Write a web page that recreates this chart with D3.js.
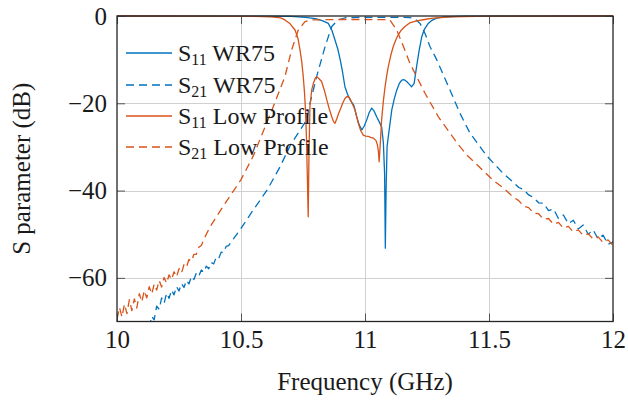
<!DOCTYPE html>
<html>
<head>
<meta charset="utf-8">
<script src="https://cdn.jsdelivr.net/npm/d3@7/dist/d3.min.js"></script>
<style>
  html, body { margin: 0; padding: 0; background: #fff; }
  svg { display: block; }
</style>
</head>
<body>
<svg id="chart" width="628" height="400"></svg>
<script>
// ---------------- DATA ----------------
const xTicks = [10, 10.5, 11, 11.5, 12];
const xTickLabels = ["10", "10.5", "11", "11.5", "12"];
const yTicks = [0, -20, -40, -60];
const yTickLabels = ["0", "\u221220", "\u221240", "\u221260"];

// S11 WR75 (solid blue)
const s11WrFreq = [10.0, 10.4, 10.6, 10.7, 10.76, 10.8, 10.83, 10.852, 10.866, 10.879, 10.89, 10.9, 10.91, 10.919, 10.93, 10.94, 10.955, 10.966, 10.977, 10.987, 10.997, 11.007, 11.017, 11.027, 11.037, 11.047, 11.057, 11.067, 11.074, 11.079, 11.082, 11.085, 11.089, 11.094, 11.1, 11.108, 11.118, 11.128, 11.138, 11.148, 11.158, 11.168, 11.178, 11.188, 11.198, 11.208, 11.218, 11.229, 11.24, 11.255, 11.27, 11.289, 11.32, 11.4, 11.6, 12.0];
const s11WrDb   = [0, -0.02, -0.05, -0.1, -0.3, -0.6, -1.1, -1.7, -3.2, -5.5, -7.5, -10, -13, -16.2, -18, -19.2, -20.5, -23, -25, -26.1, -25.2, -23.8, -22.1, -21.1, -21.8, -23.1, -24.2, -25.4, -29, -36, -53.2, -40, -30, -27.6, -25, -21.5, -19, -17, -15.5, -14.7, -14.6, -15, -15.6, -16.2, -15.5, -11.6, -8, -4.7, -3, -1.7, -1, -0.5, -0.2, -0.05, -0.01, 0];

// S21 WR75 (dashed blue)
const s21WrFreq = [10.13, 10.14, 10.15, 10.16, 10.17, 10.18, 10.19, 10.20, 10.21, 10.22, 10.23, 10.24, 10.25, 10.26, 10.27, 10.28, 10.29, 10.30, 10.31, 10.32, 10.33, 10.34, 10.35, 10.36, 10.37, 10.38, 10.39, 10.40, 10.41, 10.42, 10.43, 10.44, 10.45,
  10.496, 10.55, 10.605, 10.657, 10.7, 10.74, 10.765, 10.778, 10.805, 10.839, 10.866, 10.892, 10.92, 11.0, 11.1, 11.18, 11.2, 11.222, 11.242, 11.262, 11.289, 11.302, 11.343, 11.383, 11.423, 11.49, 11.556,
  11.60, 11.62, 11.64, 11.66, 11.68, 11.70, 11.72, 11.74, 11.76, 11.78, 11.80, 11.82, 11.84, 11.86, 11.88, 11.90, 11.92, 11.94, 11.96, 11.98, 12.00];
const s21WrDb = [-71.5, -68.8, -69.6, -66.5, -67.2, -64.6, -65.8, -63.5, -64.7, -62.8, -63.9, -62.0, -63.0, -61.3, -62.2, -60.6, -61.4, -59.7, -60.4, -58.9, -59.6, -58.2, -58.7, -57.3, -57.9, -56.5, -56.8, -55.3, -55.6, -54.1, -54.2, -52.8, -52.6,
  -49, -44.4, -39.9, -34.6, -29.5, -26, -23.8, -20, -13.9, -7, -2.4, -0.9, -0.4, -0.3, -0.3, -0.35, -0.6, -1.7, -4, -7, -10, -11.7, -17, -22.3, -26.8, -32, -36,
  -38.2, -39.3, -39.8, -41.0, -41.6, -42.8, -42.9, -44.6, -44.2, -46.4, -45.6, -47.6, -46.8, -48.8, -47.9, -50.0, -49.0, -51.1, -50.2, -52.3, -51.8];

// S11 Low Profile (solid orange)
const s11LpFreq = [10.0, 10.4, 10.55, 10.62, 10.66, 10.677, 10.698, 10.718, 10.73, 10.738, 10.745, 10.751, 10.756, 10.76, 10.764, 10.768, 10.771, 10.774, 10.778, 10.785, 10.792, 10.8, 10.805, 10.812, 10.825, 10.836, 10.846, 10.856, 10.866, 10.873, 10.879, 10.886, 10.893, 10.9, 10.91, 10.919, 10.926, 10.933, 10.94, 10.95, 10.96, 10.973, 10.983, 10.993, 11.003, 11.013, 11.023, 11.034, 11.044, 11.05, 11.054, 11.057, 11.062, 11.067, 11.074, 11.081, 11.088, 11.094, 11.104, 11.114, 11.124, 11.134, 11.147, 11.161, 11.18, 11.208, 11.24, 11.275, 11.35, 11.5, 12.0];
const s11LpDb   = [0, -0.02, -0.1, -0.2, -0.45, -0.9, -1.8, -3.2, -5.2, -7.8, -10.5, -13.9, -17.5, -21.5, -28, -38, -46, -32, -20.8, -17, -15.4, -14.2, -13.9, -14.2, -15, -17, -19.2, -21.3, -23.1, -24.2, -24.6, -23.6, -22.4, -21.5, -20, -18.9, -18.5, -18.5, -19, -20.3, -21.5, -24.6, -26.3, -27.3, -27.5, -27.6, -27.8, -28, -28.5, -29.5, -31, -33.4, -29, -23.8, -19.5, -16.2, -13.5, -11.6, -9, -7, -5.5, -4.3, -3.2, -2.4, -1.6, -1.1, -0.8, -0.5, -0.2, -0.05, 0];

// S21 Low Profile (dashed orange)
const s21LpFreq = [10.00, 10.01, 10.02, 10.03, 10.04, 10.05, 10.06, 10.07, 10.08, 10.09, 10.10, 10.11, 10.12, 10.13, 10.14, 10.15, 10.16, 10.17, 10.18, 10.19, 10.20, 10.21, 10.22, 10.23, 10.24, 10.25, 10.26, 10.27, 10.28, 10.29, 10.30, 10.31, 10.32, 10.33, 10.34, 10.35,
  10.375, 10.427, 10.5, 10.55, 10.63, 10.677, 10.704, 10.731, 10.758, 10.78, 10.9, 11.0, 11.08, 11.1, 11.128, 11.155, 11.181, 11.208, 11.242, 11.296, 11.371, 11.41, 11.516, 11.56,
  11.60, 11.62, 11.64, 11.66, 11.68, 11.70, 11.72, 11.74, 11.76, 11.78, 11.80, 11.82, 11.84, 11.86, 11.88, 11.90, 11.92, 11.94, 11.96, 11.98, 12.00];
const s21LpDb = [-69.5, -66.8, -69.0, -66.0, -68.2, -65.0, -67.5, -64.8, -66.9, -63.6, -65.5, -62.9, -64.6, -62.0, -63.7, -61.4, -62.8, -60.6, -62.1, -59.9, -61.2, -59.3, -60.4, -58.6, -59.8, -57.9, -58.9, -57.0, -57.6, -55.8, -56.2, -54.6, -54.6, -53.0, -52.6, -51.2,
  -48.3, -43.7, -37.5, -32, -20.8, -13.9, -7.8, -3.2, -1.3, -0.9, -0.8, -0.8, -0.85, -0.9, -3.2, -7, -10.8, -13.9, -17.7, -23.1, -29.1, -31.8, -37.6, -39.5,
  -41.6, -42.3, -43.6, -43.9, -45.2, -45.3, -46.6, -46.4, -47.7, -47.3, -48.6, -48.2, -49.5, -49.0, -50.3, -49.9, -51.1, -50.6, -51.9, -51.3, -52.6];

const seriesNames = ["S11 WR75", "S21 WR75", "S11 Low Profile", "S21 Low Profile"];

// ---------------- DRAWING ----------------
const FONT = "'Liberation Serif', 'Times New Roman', Times, 'DejaVu Serif', serif";
const svg = d3.select("#chart");
const L = 117, R = 613, T = 16, B = 321.5;
const x = d3.scaleLinear().domain([10, 12]).range([L, R]);
const y = d3.scaleLinear().domain([-70, 0]).range([B, T]);

const blue = "#0072BD", orange = "#D95319";
const frameColor = "#262626";

// grid
const grid = svg.append("g");
grid.selectAll("line.gx").data(xTicks.slice(1, -1)).join("line")
  .attr("x1", d => Math.round(x(d)) + 0.5).attr("x2", d => Math.round(x(d)) + 0.5)
  .attr("y1", T).attr("y2", B).attr("stroke", "#d0d0d0").attr("stroke-width", 1);
grid.selectAll("line.gy").data(yTicks.slice(1)).join("line")
  .attr("y1", d => Math.round(y(d)) + 0.5).attr("y2", d => Math.round(y(d)) + 0.5)
  .attr("x1", L).attr("x2", R).attr("stroke", "#d0d0d0").attr("stroke-width", 1);

// clip
svg.append("clipPath").attr("id", "clip").append("rect")
  .attr("x", L).attr("y", T - 2).attr("width", R - L).attr("height", B - T + 2);

const line = d3.line().x(d => x(d[0])).y(d => y(d[1]));
const plot = svg.append("g").attr("clip-path", "url(#clip)");
const series = [
  { f: s11WrFreq, v: s11WrDb, c: blue, dash: null },
  { f: s21WrFreq, v: s21WrDb, c: blue, dash: "8,5" },
  { f: s11LpFreq, v: s11LpDb, c: orange, dash: null },
  { f: s21LpFreq, v: s21LpDb, c: orange, dash: "8,5" }
];
series.forEach(s => {
  plot.append("path")
    .datum(s.f.map((f, i) => [f, s.v[i]]))
    .attr("d", line)
    .attr("fill", "none")
    .attr("stroke", s.c)
    .attr("stroke-width", 1.3)
    .attr("stroke-linejoin", "round")
    .attr("stroke-dasharray", s.dash);
});

// axes (inward ticks)
const tickLen = 8;
const fmtX = d => xTickLabels[xTicks.indexOf(d)];
const fmtY = d => yTickLabels[yTicks.indexOf(d)];
const ax = [
  svg.append("g").attr("transform", `translate(0,${B})`)
    .call(d3.axisBottom(x).tickValues(xTicks).tickFormat(fmtX).tickSize(-tickLen).tickPadding(9)),
  svg.append("g").attr("transform", `translate(0,${T})`)
    .call(d3.axisTop(x).tickValues(xTicks).tickFormat("").tickSize(-tickLen)),
  svg.append("g").attr("transform", `translate(${L},0)`)
    .call(d3.axisLeft(y).tickValues(yTicks).tickFormat(fmtY).tickSize(-tickLen).tickPadding(10)),
  svg.append("g").attr("transform", `translate(${R},0)`)
    .call(d3.axisRight(y).tickValues(yTicks).tickFormat("").tickSize(-tickLen))
];
ax.forEach(g => {
  g.attr("font-family", null).attr("font-size", null);
  g.select(".domain").remove();
  g.selectAll(".tick line").attr("stroke", "#555").attr("stroke-width", 1);
  g.selectAll(".tick text").style("font-family", FONT)
    .style("font-size", "25px").attr("fill", "#1a1a1a");
});

// frame
svg.append("rect").attr("x", L).attr("y", T).attr("width", R - L).attr("height", B - T)
  .attr("fill", "none").attr("stroke", frameColor).attr("stroke-width", 1.3);

// axis labels
svg.append("text").attr("x", (L + R) / 2).attr("y", 390)
  .attr("text-anchor", "middle").style("font-family", FONT).style("font-size", "25px")
  .attr("fill", "#1a1a1a").text("Frequency (GHz)");
svg.append("text").attr("transform", `translate(30,${(T + B) / 2}) rotate(-90)`)
  .attr("text-anchor", "middle").style("font-family", FONT).style("font-size", "25px")
  .attr("fill", "#1a1a1a").text("S parameter (dB)");

// legend
const legendRows = [53, 85, 116, 147];
const legendParts = [["S", "11", " WR75"], ["S", "21", " WR75"], ["S", "11", " Low Profile"], ["S", "21", " Low Profile"]];
series.forEach((s, i) => {
  const yy = legendRows[i];
  svg.append("line").attr("x1", 126).attr("x2", 172).attr("y1", yy).attr("y2", yy)
    .attr("stroke", s.c).attr("stroke-width", 1.3).attr("stroke-dasharray", s.dash);
  const t = svg.append("text").attr("x", 178).attr("y", yy + 8)
    .style("font-family", FONT).style("font-size", "24px").attr("fill", "#1a1a1a")
    .attr("aria-label", seriesNames[i]);
  t.append("tspan").text(legendParts[i][0]);
  t.append("tspan").style("font-size", "16px").attr("dy", 4).text(legendParts[i][1]);
  t.append("tspan").attr("dy", -4).text(legendParts[i][2]);
});
</script>
</body>
</html>
